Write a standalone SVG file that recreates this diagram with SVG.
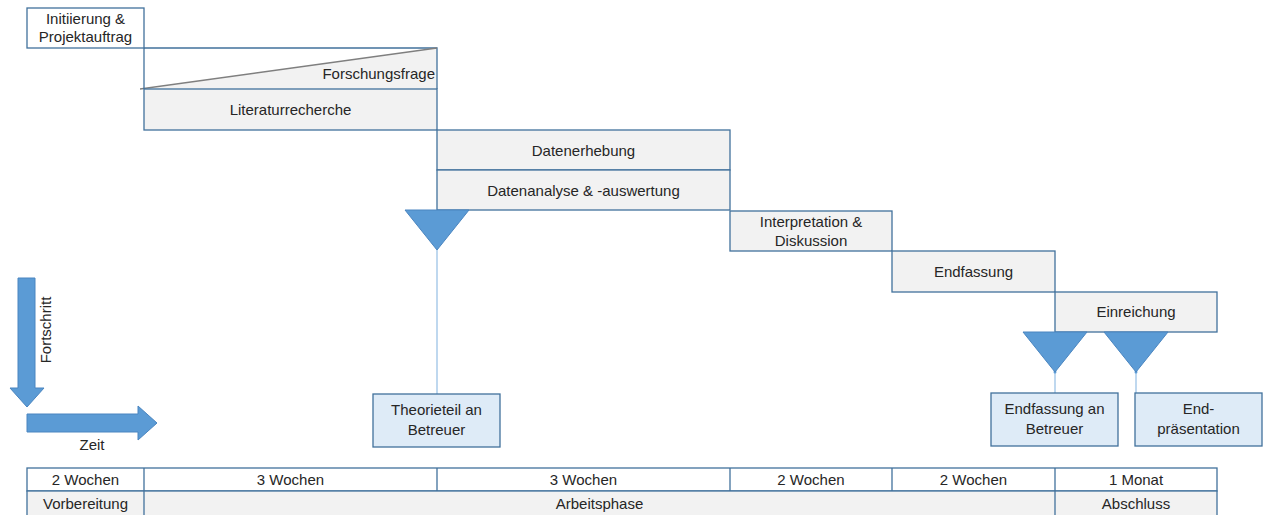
<svg xmlns="http://www.w3.org/2000/svg" width="1264" height="515" viewBox="0 0 1264 515">
<style>
text{font-family:"Liberation Sans",Arial,sans-serif;font-size:15px;fill:#262626;text-anchor:middle}
.b{stroke:#41719C;stroke-width:1.3}
.w{fill:#ffffff}
.g{fill:#F2F2F2}
.lb{fill:#DEEBF7}
.tri{fill:#5B9BD5;stroke:#4A85C0;stroke-width:1}
.ln{stroke:#9DC3E6;stroke-width:1.3;fill:none}
.arr{fill:#5B9BD5;stroke:#4A85C0;stroke-width:1}
</style>
<rect width="1264" height="515" fill="#ffffff"/>
<g id="n-init"><rect class="b w" x="27" y="8" width="117" height="40"/><text x="85.5" y="24">Initiierung &amp;</text><text x="85.5" y="42">Projektauftrag</text></g>
<g id="n-forschung"><path d="M144 89 L437 48 L437 89 Z" class="g"/><path d="M144 48 H437 V89" class="b" fill="none"/><line x1="140" y1="89" x2="437" y2="48" stroke="#7F7F7F" stroke-width="1.3"/><text x="435" y="79" style="text-anchor:end">Forschungsfrage</text></g>
<g id="n-literatur"><rect class="b g" x="144" y="89" width="293" height="41"/><line x1="144" y1="48" x2="144" y2="89" class="b"/><text x="290.5" y="115">Literaturrecherche</text></g>
<g id="n-datenerhebung"><rect class="b g" x="437" y="130" width="293" height="40"/><text x="583.5" y="156">Datenerhebung</text></g>
<g id="n-datenanalyse"><rect class="b g" x="437" y="170" width="293" height="40"/><text x="583.5" y="196">Datenanalyse &amp; -auswertung</text></g>
<g id="n-interpretation"><rect class="b g" x="730" y="211" width="162" height="40"/><text x="811" y="227">Interpretation &amp;</text><text x="811" y="246">Diskussion</text></g>
<g id="n-endfassung"><rect class="b g" x="892" y="251" width="163" height="41"/><text x="973.5" y="277">Endfassung</text></g>
<g id="n-einreichung"><rect class="b g" x="1055" y="292" width="162" height="40"/><text x="1136" y="317">Einreichung</text></g>
<g id="connectors">
<line class="ln" x1="437" y1="250" x2="437" y2="394"/>
<line class="ln" x1="1055" y1="372" x2="1055" y2="393"/>
<line class="ln" x1="1136" y1="372" x2="1136" y2="393"/>
<circle cx="1055" cy="372" r="1.5" fill="#5B9BD5"/>
<circle cx="1136" cy="372" r="1.5" fill="#5B9BD5"/>
</g>
<g id="m-theorie-tri"><path class="tri" d="M405 210 H469 L437 250 Z"/></g>
<g id="m-endfassung-tri"><path class="tri" d="M1023 332 H1087 L1055 372 Z"/></g>
<g id="m-praesentation-tri"><path class="tri" d="M1104 332 H1168 L1136 372 Z"/></g>
<g id="n-theorie"><rect class="b lb" x="373" y="394" width="127" height="53"/><text x="436.5" y="415">Theorieteil an</text><text x="436.5" y="435">Betreuer</text></g>
<g id="n-endbetreuer"><rect class="b lb" x="991" y="393" width="127" height="53"/><text x="1054.5" y="414">Endfassung an</text><text x="1054.5" y="434">Betreuer</text></g>
<g id="n-endpraes"><rect class="b lb" x="1135" y="393" width="127" height="53"/><text x="1198.5" y="414">End-</text><text x="1198.5" y="434">präsentation</text></g>
<g id="axis-fortschritt"><path class="arr" d="M18 278 H35 V388 H44 L27 407 L10 388 H18 Z"/><text transform="translate(51 330) rotate(-90)">Fortschritt</text></g>
<g id="axis-zeit"><path class="arr" d="M27 414 H138 V406 L157 423 L138 440 V432 H27 Z"/><text x="92" y="450">Zeit</text></g>
<g id="table">
<rect class="b w" x="27" y="468" width="1190" height="23"/>
<rect class="b g" x="27" y="491" width="1190" height="28"/>
<g class="b"><line x1="144" y1="468" x2="144" y2="515"/><line x1="437" y1="468" x2="437" y2="491"/><line x1="730" y1="468" x2="730" y2="491"/><line x1="892" y1="468" x2="892" y2="491"/><line x1="1055" y1="468" x2="1055" y2="515"/></g>
<text x="85.5" y="485">2 Wochen</text><text x="290.5" y="485">3 Wochen</text><text x="583.5" y="485">3 Wochen</text><text x="811" y="485">2 Wochen</text><text x="973.5" y="485">2 Wochen</text><text x="1136" y="485">1 Monat</text>
<text x="85.5" y="509">Vorbereitung</text><text x="599.5" y="509">Arbeitsphase</text><text x="1136" y="509">Abschluss</text>
</g>
</svg>
